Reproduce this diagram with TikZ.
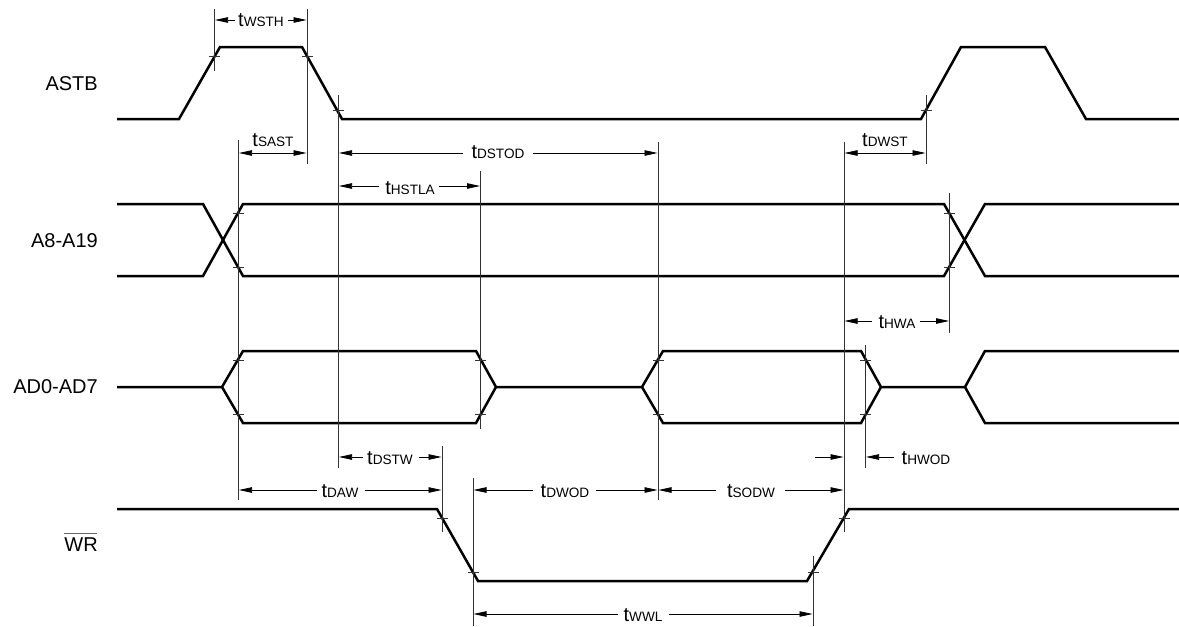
\documentclass[tikz,border=0pt]{standalone}
\usepackage{fontspec}
\setmainfont{Liberation Sans}
\usetikzlibrary{arrows.meta}
\newcommand{\tlab}[1]{{\fontsize{20}{20}\selectfont t}{\fontsize{13.6}{14}\selectfont #1}}
\tikzset{
  sig/.style={line width=2.5pt,line join=miter,black},
  guide/.style={line width=0.85pt,black!80},
  tick/.style={line width=0.6pt,black!80},
  dim/.style={line width=0.75pt,black,-{Triangle[length=13pt,width=5.5pt]}},
  sname/.style={anchor=east,inner sep=0pt,font=\fontsize{20}{20}\selectfont},
  tname/.style={inner sep=0pt,text=black}
}
\begin{document}
\begin{tikzpicture}[x=1pt,y=-1pt]
\useasboundingbox (0,0) rectangle (1179,627);
% signals
\draw[sig] (117,119)--(179,119)--(220,47)--(302,47)--(342,119)--(921,119)--(961,47)--(1045,47)--(1086,119)--(1179,119);
\draw[sig] (117,204)--(203,204)--(243,276)--(944,276)--(985,204)--(1179,204);
\draw[sig] (117,276)--(203,276)--(243,204)--(944,204)--(985,276)--(1179,276);
\draw[sig] (117,387)--(222,387)--(243,351)--(476,351)--(496,387)--(642,387)--(663,351)--(861,351)--(881,387)--(965,387)--(985,351)--(1179,351);
\draw[sig] (222,387)--(243,423)--(476,423)--(496,387);
\draw[sig] (642,387)--(663,423)--(861,423)--(881,387);
\draw[sig] (965,387)--(985,423)--(1179,423);
\draw[sig] (117,509)--(437,509)--(478,581)--(807,581)--(849,509)--(1179,509);
% guide lines
\foreach \x/\a/\b in {214.5/9/71, 307/9/164, 338.5/95/468, 238.5/140/500, 480.5/171/429, 658/142/500, 844/142/532, 926/95/164, 949.5/193/333, 442/446/532, 473/478/626, 865.5/345/468, 813/556/626}
  \draw[guide] (\x,\a)--(\x,\b);
% ticks
\foreach \x/\y in {214.5/56, 307/56, 338.5/110, 926/110, 238.5/213, 238.5/267, 949.5/213, 949.5/267, 238.5/360, 238.5/414, 480.5/360, 480.5/414, 658/360, 658/414, 865.5/360, 865.5/414, 442/518, 473/572, 813/572, 844/518}
  \draw[tick] (\x-5.5,\y)--(\x+5.5,\y);
% dimension arrows
\foreach \a/\b/\y in {
  235/215/20, 288/306.5/20,
  463/339/153, 533/657.5/153,
  379/339/186, 439/480/186,
  872/844.5/321, 920/949/321,
  363/339/457, 419/441.5/457,
  317/239/490, 365/441.5/490,
  533/473.5/490, 596/657.5/490,
  716/658.5/490, 785/843.5/490,
  815/843.5/457, 894/866/457,
  618/473.5/614, 669/812.5/614}
  \draw[dim] (\a,\y)--(\b,\y);
\draw[dim,{Triangle[length=13pt,width=5.5pt]}-{Triangle[length=13pt,width=5.5pt]}] (239,153)--(306.5,153);
\draw[dim,{Triangle[length=13pt,width=5.5pt]}-{Triangle[length=13pt,width=5.5pt]}] (844.5,153)--(925.5,153);
% signal names
\node[sname] (nastb) at (98,84) {ASTB};
\node[sname] (na) at (98,241) {A8-A19};
\node[sname] (nad) at (98,387) {AD0-AD7};
\node[sname] (nwr) at (98,545) {WR};
\draw[line width=1pt,black!60] (64,533)--(97,533);
% timing names
\node[tname] (twsth) at (261,20) {\tlab{WSTH}};
\node[tname] (tsast) at (273,140) {\tlab{SAST}};
\node[tname] (tdstod) at (498,152) {\tlab{DSTOD}};
\node[tname] (thstla) at (410,188) {\tlab{HSTLA}};
\node[tname] (tdwst) at (885,140) {\tlab{DWST}};
\node[tname] (thwa) at (897,322) {\tlab{HWA}};
\node[tname] (tdstw) at (390,458) {\tlab{DSTW}};
\node[tname] (tdaw) at (340,491) {\tlab{DAW}};
\node[tname] (tdwod) at (565,491) {\tlab{DWOD}};
\node[tname] (tsodw) at (751,491) {\tlab{SODW}};
\node[tname] (thwod) at (926,458) {\tlab{HWOD}};
\node[tname] (twwl) at (643,615) {\tlab{WWL}};
\end{tikzpicture}
\end{document}
